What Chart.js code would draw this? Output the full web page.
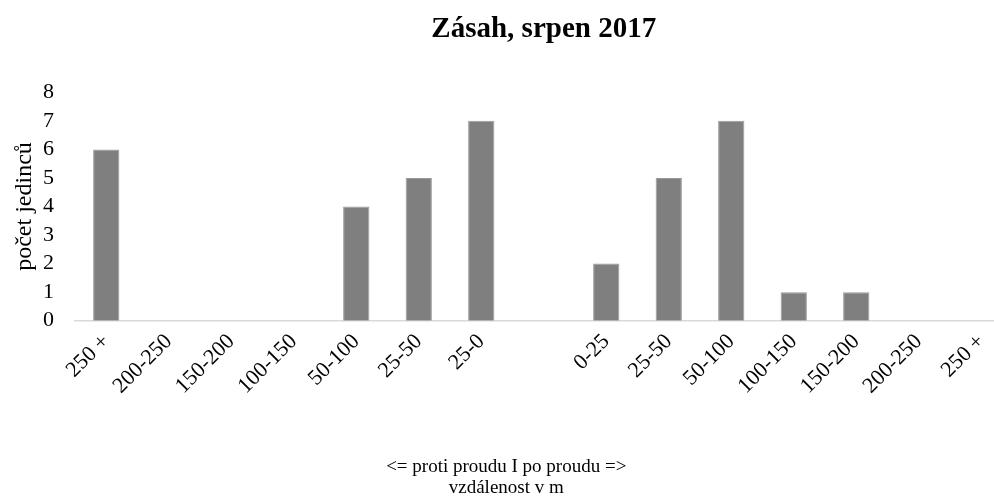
<!DOCTYPE html>
<html>
<head>
<meta charset="utf-8">
<script src="https://cdn.jsdelivr.net/npm/chart.js@4"></script>
<style>
    html, body { margin: 0; padding: 0; background: #fff; overflow: hidden; }
    #wrap { width: 1024px; height: 503px; }
</style>
</head>
<body>
<div id="wrap"><canvas id="chart"></canvas></div>
<script>
const categories = ['250 +', '200-250', '150-200', '100-150', '50-100', '25-50', '25-0', '',
    '0-25', '25-50', '50-100', '100-150', '150-200', '200-250', '250 +'];
const counts = [6, 0, 0, 0, 4, 5, 7, null, 2, 5, 7, 1, 1, 0, 0];
const yTicks = [0, 1, 2, 3, 4, 5, 6, 7, 8];

const chartTitle = 'Zásah, srpen 2017';
const xTitle = ['<= proti proudu I po proudu =>', 'vzdálenost v m'];
const yTitle = 'počet jedinců';

const serif = '"Liberation Serif", "Times New Roman", serif';

const ctx = document.getElementById('chart').getContext('2d');
const chart = new Chart(ctx, {
    type: 'bar',
    data: {
        labels: categories,
        datasets: [{
            data: counts,
            backgroundColor: '#7f7f7f',
            borderColor: '#9a9a9a',
            borderWidth: 1,
            categoryPercentage: 1,
            barPercentage: 0.42
        }]
    },
    options: {
        responsive: true,
        maintainAspectRatio: false,
        animation: false,
        layout: { padding: { left: 0, right: 11.5, top: 0, bottom: 0 } },
        plugins: {
            legend: { display: false },
            tooltip: { enabled: false },
            title: {
                display: true,
                text: chartTitle,
                fullSize: false,
                color: '#000',
                font: { family: serif, size: 29, weight: 'bold', lineHeight: 1.2 },
                padding: { top: 12, bottom: 45.5 }
            },
            subtitle: {
                display: true,
                position: 'bottom',
                text: xTitle,
                color: '#000',
                font: { family: serif, size: 19, lineHeight: 1.1 },
                padding: { top: 49, bottom: 5 }
            }
        },
        scales: {
            x: {
                grid: { display: false, drawTicks: false },
                border: { display: true, color: '#d9d9d9', width: 1.5 },
                afterFit: (axis) => { axis.paddingLeft = 0; axis.paddingRight = 0; },
                ticks: {
                    color: '#000',
                    font: { family: serif, size: 22 },
                    minRotation: 45,
                    maxRotation: 45,
                    autoSkip: false,
                    padding: 8
                }
            },
            y: {
                min: 0,
                max: 8,
                afterBuildTicks: (axis) => { axis.ticks = yTicks.map(v => ({ value: v })); },
                afterFit: (axis) => { axis.width = 75; },
                grid: { display: false, drawTicks: false },
                border: { display: false },
                ticks: {
                    color: '#000',
                    font: { family: serif, size: 22 },
                    autoSkip: false,
                    padding: 21
                },
                title: {
                    display: true,
                    text: yTitle,
                    color: '#000',
                    font: { family: serif, size: 24 },
                    padding: { top: 10.5, bottom: 3.5 }
                }
            }
        }
    }
});
</script>
</body>
</html>
